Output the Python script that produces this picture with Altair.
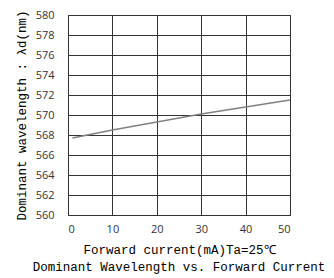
import altair as alt
import pandas as pd

current = [1, 10, 20, 30, 40, 50]
wavelength = [567.7, 568.5, 569.3, 570.1, 570.8, 571.5]
x_ticks = [0, 10, 20, 30, 40, 50]
y_ticks = list(range(560, 581, 2))

df = pd.DataFrame({"x": current, "y": wavelength})

line = alt.Chart(df).mark_line(color="#808080", strokeWidth=1.5).encode(
    x=alt.X("x:Q", scale=alt.Scale(domain=[0, 50], nice=False),
            axis=alt.Axis(values=x_ticks, title="Forward current(mA)Ta=25℃",
                          grid=True, gridColor="#333333", gridWidth=1,
                          ticks=False, domain=False, labelPadding=8,
                          labelFont="Open Sans", labelFontSize=11, labelColor="#333333",
                          titleFont="Liberation Mono", titleFontSize=12.5,
                          titleFontWeight="normal", titleColor="#000000", titlePadding=9)),
    y=alt.Y("y:Q", scale=alt.Scale(domain=[560, 580], nice=False, zero=False),
            axis=alt.Axis(values=y_ticks, title="Dominant wavelength : λd(nm)",
                          grid=True, gridColor="#333333", gridWidth=1,
                          ticks=False, domain=False, labelPadding=14,
                          labelFont="Open Sans", labelFontSize=11, labelColor="#333333",
                          titleFont="Liberation Mono", titleFontSize=12.5,
                          titleFontWeight="normal", titleColor="#000000", titlePadding=7)),
)

chart = line.properties(
    width=222, height=200,
    autosize=alt.AutoSizeParams(type="none"),
    padding={"left": 60, "top": 7, "right": 36, "bottom": 62},
    title=alt.TitleParams("Dominant Wavelength vs. Forward Current", orient="bottom",
                          font="Liberation Mono", fontSize=12.5, fontWeight="normal",
                          color="#000000", offset=5, anchor="middle"),
).configure_view(stroke="#333333", strokeWidth=1)

chart.save("out.html", embed_options={"renderer": "svg", "actions": False})
